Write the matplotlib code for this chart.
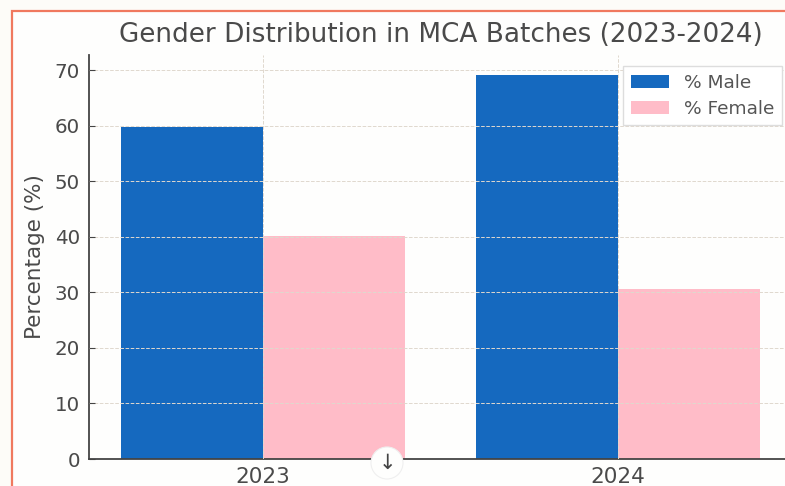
import matplotlib
matplotlib.use("Agg")
import matplotlib.pyplot as plt
import numpy as np
from matplotlib.patches import Rectangle, Circle

# Data
years = ["2023", "2024"]
male = [59.7, 69.1]
female = [40.2, 30.6]

W, H = 785, 486
fig = plt.figure(figsize=(W / 100, H / 100), dpi=100, facecolor="#fdfcf8")

# page card with the orange border
fig.add_artist(Rectangle((12 / W, -0.02), 1, 1 - 11 / H + 0.02, transform=fig.transFigure,
                         facecolor="#fefefd", edgecolor="#f0795f", linewidth=1.6, zorder=-1))

# axes in pixels: left 89, right past the crop, top 55, bottom 459
ax = fig.add_axes([89 / W, 1 - 459 / H, (W - 89) / W, (459 - 55) / H], facecolor="none")

x = np.arange(len(years))
w = 0.4
ax.bar(x - w / 2, male, w, color="#1569bf", label="% Male", zorder=2)
ax.bar(x + w / 2, female, w, color="#ffbcc8", label="% Female", zorder=2)

ax.set_xlim(-0.49, 1.47)
ax.set_ylim(0, 72.7)
ax.set_xticks(x)
ax.set_xticklabels(years)
ax.set_yticks(range(0, 71, 10))
ax.tick_params(axis="y", labelsize=14.3, labelcolor="#4a4a4a", color="#444444",
               direction="in", length=4, pad=6.5)
ax.tick_params(axis="x", labelsize=15.5, labelcolor="#4a4a4a", length=0, pad=6)

ax.grid(True, linestyle="--", linewidth=0.7, color="#e0d8ce", zorder=3)
ax.set_axisbelow(False)
for s in ["top", "right"]:
    ax.spines[s].set_visible(False)
for s in ["left", "bottom"]:
    ax.spines[s].set_color("#444444")
    ax.spines[s].set_linewidth(1.3)

ax.set_ylabel("Percentage (%)", fontsize=15.5, color="#4a4a4a", labelpad=7)
fig.text(441 / W, 1 - 35 / H, "Gender Distribution in MCA Batches (2023-2024)",
         ha="center", va="center", fontsize=18.9, color="#4a4a4a")

leg = ax.legend(loc="upper left", bbox_to_anchor=((623 - 89) / (W - 89), 1 - (66 - 55) / (459 - 55)),
                borderaxespad=0, fontsize=13.3, labelcolor="#555555", fancybox=False,
                edgecolor="#dddddd", framealpha=1, borderpad=0.42, handlelength=2.05,
                handletextpad=0.85, labelspacing=0.42)
leg.set_zorder(5)

# scroll button sitting on the axis
fig_ax = fig.add_axes([0, 0, 1, 1], facecolor="none")
fig_ax.set_xlim(0, W)
fig_ax.set_ylim(H, 0)
fig_ax.axis("off")
fig_ax.add_patch(Circle((387, 463), 16, facecolor="#fefefd", edgecolor="#efefef", linewidth=0.8))
fig_ax.text(387, 463, "↓", ha="center", va="center", fontsize=15, color="#444444")

fig.savefig("out.png", dpi=100, facecolor=fig.get_facecolor())
